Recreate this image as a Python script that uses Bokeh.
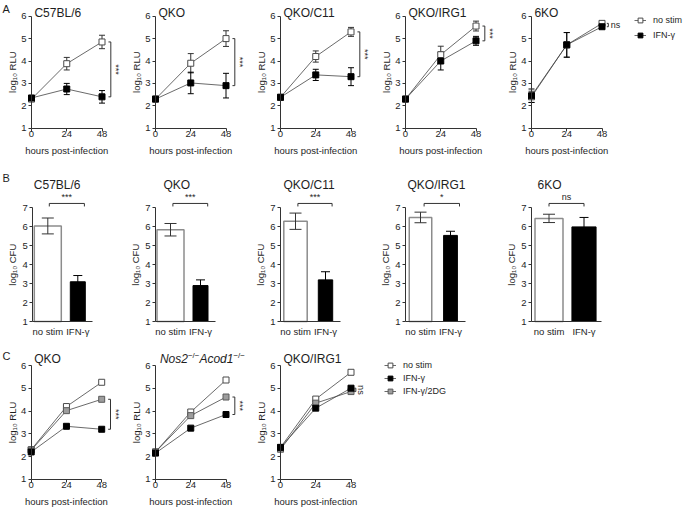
import math
from bokeh.plotting import figure
from bokeh.models import (Range1d, Whisker, TeeHead, Label, Legend, LegendItem,
                          ColumnDataSource, FixedTicker, LinearAxis)
from bokeh.embed import file_html
from bokeh.resources import INLINE

# ---------------- data ----------------
hours = [0, 24, 48]

a_titles = ["C57BL/6", "QKO", "QKO/C11", "QKO/IRG1", "6KO"]
a_nostim = [[2.30, 3.88, 4.85], [2.30, 3.90, 5.00], [2.38, 4.20, 5.30],
            [2.30, 4.28, 5.56], [2.40, 4.72, 5.68]]
a_nostim_err = [[0.08, 0.28, 0.30], [0.10, 0.43, 0.35], [0.08, 0.25, 0.20],
                [0.10, 0.38, 0.22], [0.25, 0.55, 0.06]]
a_ifn = [[2.35, 2.75, 2.40], [2.30, 3.02, 2.90], [2.38, 3.38, 3.30],
         [2.30, 4.00, 4.90], [2.45, 4.72, 5.53]]
a_ifn_err = [[0.10, 0.25, 0.28], [0.10, 0.48, 0.55], [0.08, 0.25, 0.40],
             [0.10, 0.40, 0.20], [0.30, 0.55, 0.06]]
a_sig = ["***", "***", "***", "***", "ns"]

b_titles = ["C57BL/6", "QKO", "QKO/C11", "QKO/IRG1", "6KO"]
b_groups = ["no stim", "IFN-γ"]
b_nostim = [6.05, 5.85, 6.30, 6.50, 6.45]
b_nostim_err = [0.42, 0.33, 0.43, 0.28, 0.22]
b_ifn = [3.10, 2.90, 3.20, 5.55, 6.00]
b_ifn_err = [0.33, 0.30, 0.43, 0.22, 0.50]
b_sig = ["***", "***", "***", "*", "ns"]

c_titles = ["QKO", "Nos2/Acod1", "QKO/IRG1"]
c_nostim = [[2.30, 4.20, 5.27], [2.20, 3.96, 5.37], [2.40, 4.53, 5.71]]
c_ifn = [[2.20, 3.33, 3.20], [2.15, 3.25, 3.85], [2.40, 4.13, 5.01]]
c_ifn_err = [[0, 0, 0], [0, 0, 0.12], [0, 0, 0]]
c_dg = [[2.28, 4.02, 4.52], [2.20, 3.80, 4.62], [2.32, 4.35, 4.86]]
c_sig = ["***", "***", "ns"]
series_names = ["no stim", "IFN-γ", "IFN-γ/2DG"]

# ---------------- style / geometry (page pixels) ----------------
FONT = "Liberation Sans"
TXT = "#1e1e1e"
AXC = "#333333"
LINE = "#444444"
ST_NOSTIM = dict(fill_color="white", line_color="#4a4a4a")
ST_IFN = dict(fill_color="black", line_color="black")
ST_DG = dict(fill_color="#9d9d9d", line_color="#5a5a5a")
W, H = 696, 507

S_T = 70.5 / 48.0                     # px per hour
A_AXIS = [31, 155, 280, 405, 531]     # page x of hour 0
A_Y1, A_PPU = 127.7, 22.4             # page y of value 1, px per log unit
C_AXIS = [30.7, 155, 280]
C_Y1, C_PPU = 478.7, 22.7
B_AXIS = [32.3, 155, 280, 405, 531]
B_SCALE = [30, 30, 30, 30, 35]        # px per category
B_Y1, B_PPU = 321.0, 18.92
b_white_w = [0.9, 0.9, 0.78, 0.75, 0.8]
b_black_w = [0.5, 0.5, 0.48, 0.46, 0.69]
b_bracket = [(0.55, 1.72), (0.58, 1.74), (0.58, 1.72), (0.62, 1.8), (0.5, 1.5)]
b_title_px = [1, 8, 3, 2, 6]

p = figure(frame_width=W, frame_height=H, min_border_left=0, min_border_right=0,
           min_border_top=0, min_border_bottom=0, x_range=Range1d(0, W),
           y_range=Range1d(H, 0), x_axis_type=None, y_axis_type=None,
           toolbar_location=None, tools="", output_backend="svg")
p.title = None
p.grid.visible = False
p.outline_line_color = None
p.background_fill_color = "white"
p.border_fill_color = "white"

xr_map, yr_map = {}, {}


def panel_ranges(name, ax_px, sx, y1_px, sy):
    xr_map[name] = Range1d(-ax_px / sx, (W - ax_px) / sx)
    yr_map[name] = Range1d(1 - (H - y1_px) / sy, 1 + y1_px / sy)


def yv(py, y1, ppu):
    return 1 + (y1 - py) / ppu


for i in range(len(a_titles)):
    panel_ranges("a%d" % i, A_AXIS[i], S_T, A_Y1, A_PPU)
for i in range(len(b_titles)):
    panel_ranges("b%d" % i, B_AXIS[i], B_SCALE[i], B_Y1, B_PPU)
for i in range(len(c_titles)):
    panel_ranges("c%d" % i, C_AXIS[i], S_T, C_Y1, C_PPU)
p.extra_x_ranges = xr_map
p.extra_y_ranges = yr_map


def style_axis(ax, tick_out, lab_standoff):
    ax.axis_line_color = AXC
    ax.axis_line_width = 1
    ax.major_tick_line_color = AXC
    ax.major_tick_line_width = 1
    ax.major_tick_out = tick_out
    ax.major_tick_in = 0
    ax.minor_tick_line_color = None
    ax.major_label_text_font = FONT
    ax.major_label_text_font_size = "9.5px"
    ax.major_label_text_color = TXT
    ax.major_label_standoff = lab_standoff


def add_axes(n, xticks, xbounds, yticks, ybounds, xtick_out, xstand, overrides=None):
    xa = LinearAxis(x_range_name=n, y_range_name=n, fixed_location=1, bounds=xbounds,
                    ticker=FixedTicker(ticks=xticks))
    if overrides:
        xa.major_label_overrides = overrides
    style_axis(xa, xtick_out, xstand)
    p.add_layout(xa, "below")
    ya = LinearAxis(x_range_name=n, y_range_name=n, fixed_location=0, bounds=ybounds,
                    ticker=FixedTicker(ticks=yticks))
    style_axis(ya, 3, 2)
    p.add_layout(ya, "left")


def label(n, x, y, text, size="12px", align="left", baseline="middle", angle=0.0,
          style="normal", xo=0, yo=0):
    kw = dict(x_range_name=n, y_range_name=n) if n else {}
    p.add_layout(Label(x=x, y=y, text=text, text_font=FONT, text_font_size=size,
                       text_align=align, text_baseline=baseline, angle=angle,
                       text_font_style=style, text_color=TXT, x_offset=xo, y_offset=yo,
                       **kw))


def whisker(n, base, vals, errs, color, head, level="underlay"):
    if errs is None:
        return
    pts = [(b, v, e) for b, v, e in zip(base, vals, errs) if e > 0]
    if not pts:
        return
    src = ColumnDataSource(dict(base=[q[0] for q in pts],
                                lower=[q[1] - q[2] for q in pts],
                                upper=[q[1] + q[2] for q in pts]))
    p.add_layout(Whisker(source=src, base="base", lower="lower", upper="upper",
                         dimension="height", line_color=color, line_width=1, level=level,
                         x_range_name=n, y_range_name=n,
                         upper_head=TeeHead(size=head, line_color=color, line_width=1),
                         lower_head=TeeHead(size=head, line_color=color, line_width=1)))


def draw_series(n, series):
    for vals, errs, sty, ecol in series:
        p.line(hours, vals, line_color=LINE, line_width=0.8, x_range_name=n, y_range_name=n)
    for vals, errs, sty, ecol in series:
        whisker(n, hours, vals, errs, ecol, 6)
    for vals, errs, sty, ecol in series:
        p.scatter(hours, vals, marker="square", size=6, line_width=1,
                  x_range_name=n, y_range_name=n, **sty)


def bracket_v(n, x, top, bot, tick):
    p.line([x - tick, x, x, x - tick], [top, top, bot, bot], line_color=AXC, line_width=1,
           x_range_name=n, y_range_name=n)


def time_axes(n, y1, ppu):
    add_axes(n, hours, (0, 48), [1, 2, 3, 4, 5, 6], (1, 6), 3, 0)
    label(n, 24, yv(y1 + 21.8, y1, ppu), "hours post-infection", size="9.5px",
          align="center")
    label(n, -18.8 / S_T, 3.5, "log₁₀ RLU", size="9.5px", align="center",
          angle=math.pi / 2)


# ---------------- Row A ----------------
for i in range(len(a_titles)):
    n = "a%d" % i
    time_axes(n, A_Y1, A_PPU)
    draw_series(n, [(a_nostim[i], a_nostim_err[i], ST_NOSTIM, AXC),
                    (a_ifn[i], a_ifn_err[i], ST_IFN, "black")])
    top, bot = a_nostim[i][2], a_ifn[i][2]
    if a_sig[i] == "ns":
        bracket_v(n, 52.3, top, bot, 1.0)
        label(n, 54.0, (top + bot) / 2, a_sig[i], size="9px")
    else:
        bracket_v(n, 54.0, top, bot, 1.6)
        label(n, 57.8, (top + bot) / 2, a_sig[i], size="9px", align="center",
              angle=-math.pi / 2)
    label(n, 2, yv(12.7, A_Y1, A_PPU), a_titles[i], size="12px")

# ---------------- Row B ----------------
bx = [k + 0.5 for k in range(len(b_groups))]
for i in range(len(b_titles)):
    n = "b%d" % i
    p.vbar(x=[bx[0]], top=[b_nostim[i]], bottom=1, width=b_white_w[i],
           fill_color="white", line_color="#8c8c8c", line_width=1.5,
           x_range_name=n, y_range_name=n)
    p.vbar(x=[bx[1]], top=[b_ifn[i]], bottom=1, width=b_black_w[i],
           fill_color="black", line_color="black", line_width=1,
           x_range_name=n, y_range_name=n)
    whisker(n, [bx[0]], [b_nostim[i]], [b_nostim_err[i]], AXC, 12, level="annotation")
    whisker(n, [bx[1]], [b_ifn[i]], [b_ifn_err[i]], "black", 9, level="annotation")
    add_axes(n, bx, (0, 2), [1, 2, 3, 4, 5, 6, 7], (1, 7), 0, 4,
             overrides={bx[0]: b_groups[0], bx[1]: b_groups[1]})
    label(n, -20.0 / B_SCALE[i], 4.0, "log₁₀ CFU", size="9.5px", align="center",
          angle=math.pi / 2)
    bx0, bx1 = b_bracket[i]
    p.line([bx0, bx0, bx1, bx1], [7.08, 7.24, 7.24, 7.08], line_color=AXC, line_width=1,
           x_range_name=n, y_range_name=n)
    label(n, (bx0 + bx1) / 2, 7.58, b_sig[i], size="9px", align="center")
    label(n, 0, yv(184, B_Y1, B_PPU), b_titles[i], size="12px", xo=b_title_px[i])

# ---------------- Row C ----------------
for i in range(len(c_titles)):
    n = "c%d" % i
    time_axes(n, C_Y1, C_PPU)
    draw_series(n, [(c_nostim[i], None, ST_NOSTIM, AXC),
                    (c_dg[i], None, ST_DG, AXC),
                    (c_ifn[i], c_ifn_err[i], ST_IFN, "#8a8a8a")])
    hi = max(c_dg[i][2], c_ifn[i][2])
    lo = min(c_dg[i][2], c_ifn[i][2])
    if c_sig[i] == "ns":
        bracket_v(n, 51.3, hi, lo, 1.2)
        label(n, 54.5, (hi + lo) / 2, c_sig[i], size="9px", align="center",
              angle=-math.pi / 2)
    else:
        bracket_v(n, 54.0, hi, lo, 1.6)
        label(n, 57.5, (hi + lo) / 2, c_sig[i], size="9px", align="center",
              angle=-math.pi / 2)
    ty = yv(358.7, C_Y1, C_PPU)
    if i == 1:
        label(n, 3, ty, "Nos2", size="12px", style="italic")
        label(n, 3, ty, "−/−", size="8px", xo=28, yo=4)
        label(n, 3, ty, "Acod1", size="12px", style="italic", xo=39.5)
        label(n, 3, ty, "−/−", size="8px", xo=73.5, yo=4)
    else:
        label(n, 2, ty, c_titles[i], size="12px")

# ---------------- panel letters (page pixel coordinates) ----------------
label(None, 2, 2, "A", size="11px", baseline="top")
label(None, 2, 171, "B", size="11px", baseline="top")
label(None, 2, 349, "C", size="11px", baseline="top")


# ---------------- legends ----------------
def make_legend(entries, spacing, left_px, top_px):
    items = []
    for name, sty in entries:
        # legend proxies, kept outside the visible area
        rl = p.line([-60, -50], [-60, -60], line_color=LINE, line_width=0.8)
        rm = p.scatter([-55], [-60], marker="square", size=6, line_width=1, **sty)
        items.append(LegendItem(label=name, renderers=[rl, rm]))
    k = len(entries)
    height = 2 * 3 + k * 12 + (k - 1) * spacing
    leg = Legend(items=items, location=(left_px, H - (top_px + height)), margin=0,
                 padding=3, spacing=spacing, glyph_width=12, glyph_height=12,
                 label_height=12, label_standoff=7, label_text_font=FONT,
                 label_text_font_size="9px", label_text_color=TXT,
                 border_line_color=None, background_fill_alpha=0)
    p.add_layout(leg)


make_legend([(series_names[0], ST_NOSTIM), (series_names[1], ST_IFN)], 3, 634, 8)
make_legend([(series_names[0], ST_NOSTIM), (series_names[1], ST_IFN),
             (series_names[2], ST_DG)], 1, 384, 353)

open("out.html", "w").write(file_html(p, INLINE))
